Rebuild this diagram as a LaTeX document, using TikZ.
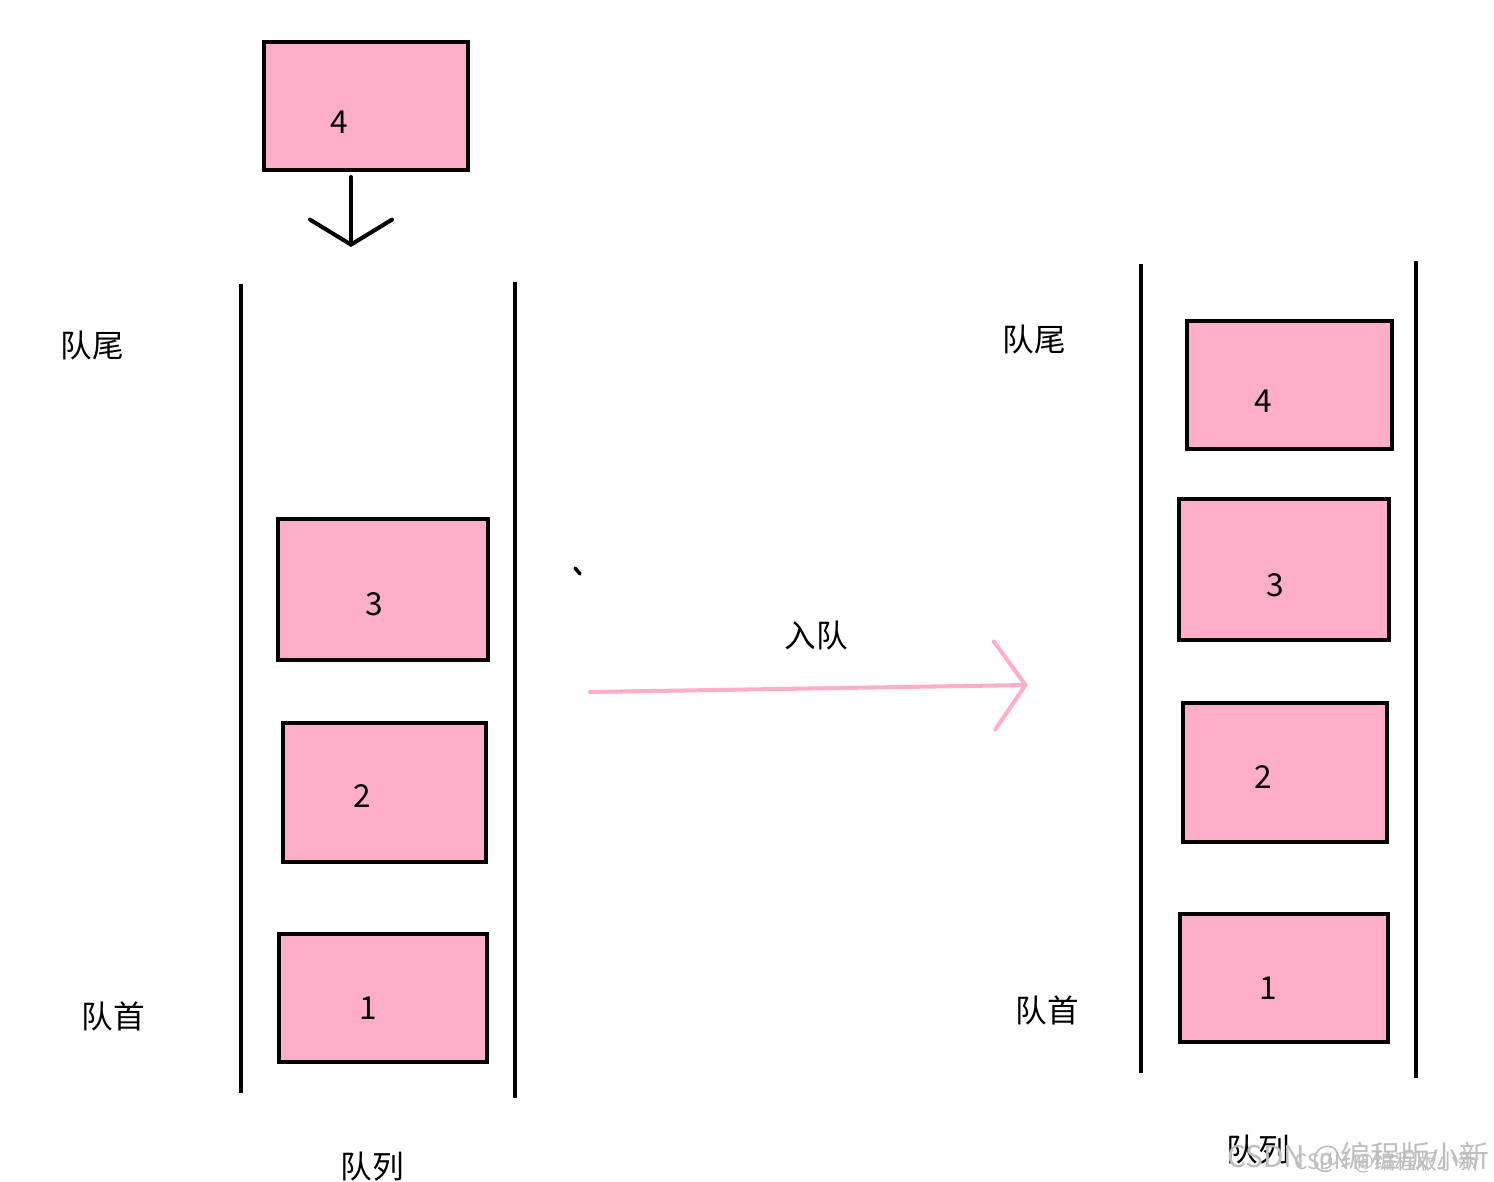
\documentclass[tikz,border=0pt]{standalone}
\usepackage{fontspec}
\setmainfont{Noto Sans CJK SC}
\usetikzlibrary{arrows.meta}
\definecolor{boxpink}{RGB}{255,174,201}
\definecolor{markgray}{RGB}{190,190,190}

\begin{document}
\begin{tikzpicture}[
  x=0.02cm, y=-0.02cm,
  font=\fontsize{18}{20}\selectfont,
  qbox/.style={draw, line width=2.3pt, fill=boxpink, inner sep=0pt},
  num/.style={inner sep=0pt},
  wall/.style={line width=2.3pt},
  tag/.style={inner sep=0pt},
  pushflow/.style={line width=2.3pt, line cap=round,
    -{Straight Barb[length=0.5cm,width=1.64cm,line cap=round]}},
  enqflow/.style={line width=2.3pt, line cap=round, draw=boxpink,
    -{Straight Barb[length=0.62cm,width=1.76cm,line cap=round]}},
  wmark/.style={inner sep=0pt, text=markgray}
]
\useasboundingbox (0,0) rectangle (1494,1182);

% incoming element
\node[qbox, minimum width=4.08cm, minimum height=2.56cm] (top4) at (366,106) {};
\node[num] (n4) at (339,122) {4};
\coordinate (drop) at (351,247);
\draw[pushflow, shorten <=0.1cm] (top4.south -| drop) -- (drop);

% left queue
\coordinate (lwa) at (241,284);
\coordinate (lwb) at (241,1093);
\coordinate (rwa) at (515,282);
\coordinate (rwb) at (515,1098);
\draw[wall] (lwa) -- (lwb);
\draw[wall] (rwa) -- (rwb);
\node[qbox, minimum width=4.2cm, minimum height=2.82cm] (b3) at (383,589.5) {};
\node[qbox, minimum width=4.06cm, minimum height=2.78cm] (b2) at (384.5,792.5) {};
\node[qbox, minimum width=4.16cm, minimum height=2.56cm] (b1) at (383,998) {};
\node[num] (n3) at (374,604) {3};
\node[num] (n2) at (362,796) {2};
\node[num] (n1) at (368,1008) {1};
\node[tag] (tail) at (92,346) {队尾};
\node[tag] (head) at (113,1016) {队首};
\node[tag] (name) at (372,1167) {队列};

% stray tick
\coordinate (ta) at (575,568);
\coordinate (tb) at (580,574);
\draw[line width=2pt, line cap=round] (ta) -- (tb);

% enqueue
\coordinate (ea) at (590,692);
\coordinate (eb) at (1028,685);
\draw[enqflow] (ea) -- (eb);
\node[tag] (enq) at (816,636) {入队};

% right queue
\coordinate (lwc) at (1141,264);
\coordinate (lwd) at (1141,1073);
\coordinate (rwc) at (1416,261);
\coordinate (rwd) at (1416,1078);
\draw[wall] (lwc) -- (lwd);
\draw[wall] (rwc) -- (rwd);
\node[qbox, minimum width=4.1cm, minimum height=2.56cm] (r4) at (1289.5,385) {};
\node[qbox, minimum width=4.2cm, minimum height=2.82cm] (r3) at (1284,569.5) {};
\node[qbox, minimum width=4.08cm, minimum height=2.78cm] (r2) at (1285,772.5) {};
\node[qbox, minimum width=4.16cm, minimum height=2.56cm] (r1) at (1284,978) {};
\node[num] (m4) at (1263,401) {4};
\node[num] (m3) at (1275,585) {3};
\node[num] (m2) at (1263,777) {2};
\node[num] (m1) at (1268,988) {1};
\node[tag] (rtail) at (1034,340) {队尾};
\node[tag] (rhead) at (1047,1010) {队首};
\node[tag] (rname) at (1258,1150) {队列};

% watermark
\node[wmark, anchor=east, font=\fontsize{17}{18}\selectfont] (wm1) at (1490,1157) {CSDN @编程版小新};
\node[wmark, anchor=east, font=\fontsize{12}{13}\selectfont] (wm2) at (1480,1162) {CSDN @编程版小新};
\end{tikzpicture}
\end{document}
